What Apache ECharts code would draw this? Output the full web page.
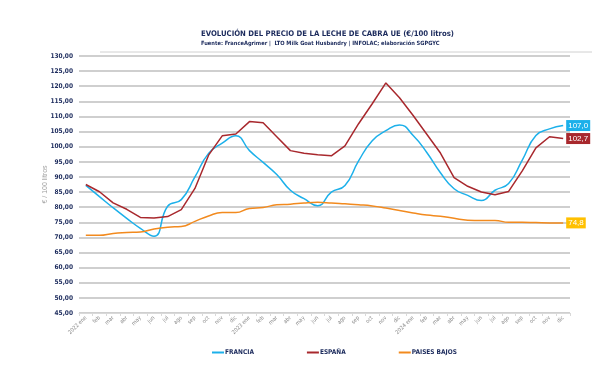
<!DOCTYPE html>
<html>
<head>
<meta charset="utf-8">
<script src="https://cdn.jsdelivr.net/npm/echarts@6/dist/echarts.min.js"></script>
<style>
  html, body { margin: 0; padding: 0; background: #fff; }
  #chart { width: 603px; height: 372px; }
</style>
</head>
<body>
<div id="chart"></div>
<script>
// Month labels, Jan 2022 – Dec 2024
const months = ['2022 ene','feb','mar','abr','may','jun','jul','ago','sep','oct','nov','dic',
                '2023 ene','feb','mar','abr','may','jun','jul','ago','sep','oct','nov','dic',
                '2024 ene','feb','mar','abr','may','jun','jul','ago','sep','oct','nov','dic'];

// Goat milk price, €/100 litres
const francia = [87.2, 83.5, 79.8, 76.3, 73.0, 70.4, 80.3, 82.5, 90.0, 97.8, 101.2, 103.6,
                 98.7, 94.8, 90.8, 85.6, 82.8, 80.5, 85.0, 87.2, 95.3, 102.0, 105.3, 107.2,
                 103.7, 98.1, 91.4, 86.1, 83.9, 82.2, 85.6, 87.8, 95.6, 103.7, 105.9, 107.0];
const espana = [87.5, 85.1, 81.4, 79.3, 76.6, 76.4, 76.9, 79.2, 86.2, 97.2, 103.6, 104.2,
                108.3, 107.9, 103.3, 98.7, 97.8, 97.3, 97.0, 100.3, 107.6, 114.2, 121.1, 116.2,
                110.3, 104.1, 97.9, 89.8, 86.9, 85.0, 84.1, 85.2, 92.0, 99.6, 103.3, 102.7];
const paisesBajos = [70.7, 70.7, 71.3, 71.6, 71.8, 72.8, 73.4, 73.6, 75.3, 77.1, 78.2, 78.2,
                     79.6, 79.9, 80.8, 81.0, 81.4, 81.6, 81.4, 81.1, 80.8, 80.4, 79.7, 78.9,
                     78.1, 77.4, 77.0, 76.3, 75.7, 75.6, 75.6, 75.0, 75.0, 74.9, 74.8, 74.8];

const NAVY = '#1b2a5c';
const FONT = '"DejaVu Sans Condensed", "Liberation Sans Narrow", "Liberation Sans", sans-serif';
const comma = (v, d) => v.toFixed(d).replace('.', ',');

function endLabel(bg) {
  return {
    show: true,
    formatter: p => comma(p.value, 1),
    backgroundColor: bg,
    color: '#fff',
    fontFamily: '"Liberation Sans", sans-serif',
    fontSize: 8,
    padding: [2, 2, 1, 2],
    distance: 3
  };
}

function lineSeries(name, data, color, smooth) {
  return {
    name: name,
    type: 'line',
    data: data,
    smooth: smooth,
    symbol: 'none',
    lineStyle: { color: color, width: 1.5 },
    itemStyle: { color: color },
    endLabel: endLabel(name === 'PAISES BAJOS' ? '#ffc000' : color),
    z: 3
  };
}

const chart = echarts.init(document.getElementById('chart'), null, { renderer: 'canvas' });
chart.setOption({
  animation: false,
  backgroundColor: '#fff',
  textStyle: { fontFamily: FONT },
  title: {
    text: 'EVOLUCIÓN DEL PRECIO DE LA LECHE DE CABRA UE (€/100 litros)',
    subtext: 'Fuente: FranceAgrimer |  LTO Milk Goat Husbandry | INFOLAC; elaboración SGPGYC',
    left: 196,
    top: 25,
    itemGap: 3,
    textStyle: { fontFamily: FONT, fontSize: 7.7, fontWeight: 'bold', color: NAVY },
    subtextStyle: { fontFamily: FONT, fontSize: 5.7, fontWeight: 'bold', color: NAVY }
  },
  graphic: [{
    type: 'line',
    shape: { x1: 100, y1: 52, x2: 592, y2: 52 },
    style: { stroke: '#d0d0d0', lineWidth: 1 }
  }],
  legend: {
    bottom: 11,
    left: 207,
    itemGap: 53,
    itemWidth: 12,
    itemHeight: 2,
    icon: 'rect',
    textStyle: { fontFamily: FONT, fontSize: 6.5, fontWeight: 'bold', color: NAVY, padding: [0, 0, 0, -4] },
    data: ['FRANCIA', 'ESPAÑA', 'PAISES BAJOS']
  },
  grid: { left: 79, right: 33, top: 56, bottom: 59 },
  xAxis: {
    type: 'category',
    data: months,
    boundaryGap: true,
    axisLine: { lineStyle: { color: '#d9d9d9' } },
    axisTick: { show: true, interval: 0, length: 3, lineStyle: { color: '#d9d9d9' } },
    axisLabel: {
      interval: 0, rotate: 45, fontSize: 5.5, color: '#8a8a8a', margin: 4
    }
  },
  yAxis: {
    type: 'value',
    min: 45,
    max: 130,
    interval: 5,
    name: '€ / 100 litros',
    nameLocation: 'middle',
    nameGap: 30,
    nameMoveOverlap: false,
    nameTextStyle: { fontFamily: '"Liberation Sans", sans-serif', fontSize: 7, color: '#a0a0a0' },
    axisLine: { show: false },
    axisTick: { show: false },
    axisLabel: {
      formatter: v => comma(v, 2),
      fontSize: 6.5, fontWeight: 'bold', color: NAVY, margin: 6
    },
    splitLine: { lineStyle: { color: '#bfbfbf', width: 1.5 } }
  },
  series: [
    lineSeries('FRANCIA', francia, '#1cb0ea', true),
    lineSeries('ESPAÑA', espana, '#a8282d', false),
    lineSeries('PAISES BAJOS', paisesBajos, '#f28a1e', true)
  ]
});
</script>
</body>
</html>
